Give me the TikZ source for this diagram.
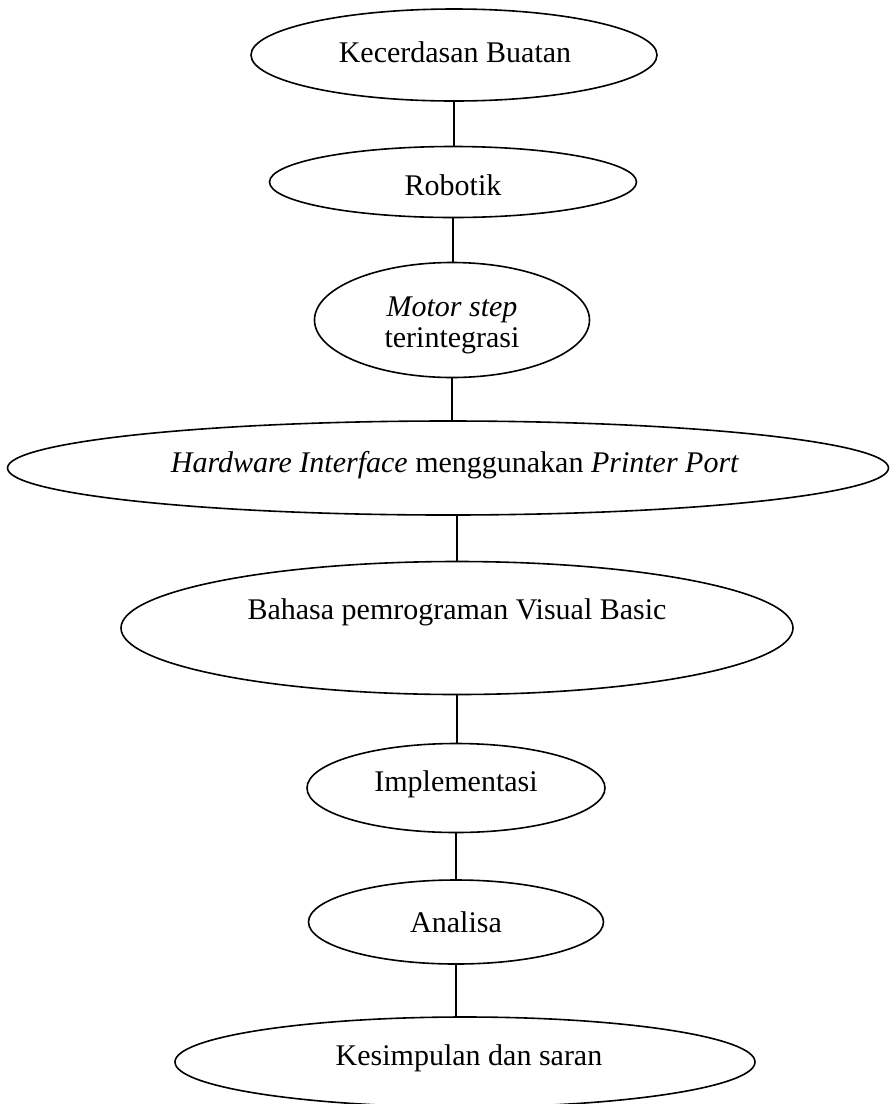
\documentclass[tikz,border=0pt]{standalone}
\usepackage{fontspec}
\setmainfont{Liberation Serif}
\usetikzlibrary{shapes.geometric}
\newcommand\dfont{\fontsize{30}{31}\selectfont}
\tikzset{
  ell/.style={draw, ellipse, inner sep=0pt, line width=1.6pt},
  lbl/.style={font=\dfont, align=center, inner sep=0pt},
  conn/.style={line width=1.3pt}
}
\begin{document}
\begin{tikzpicture}[x=1pt,y=-1pt]
\useasboundingbox[fill=white] (0,0) rectangle (891,1104);
% ellipses
\node[ell, minimum width=406pt, minimum height=92pt] (k) at (454,55) {};
\node[lbl] (kt) at (455,52) {Kecerdasan Buatan};
\node[ell, minimum width=367pt, minimum height=71pt] (r) at (453,182) {};
\node[lbl] (rt) at (453,185) {Robotik};
\node[ell, minimum width=275pt, minimum height=115pt] (m) at (452,320) {};
\node[lbl] (mt) at (452,325) {\textit{Motor step}\\terintegrasi};
\node[ell, minimum width=881pt, minimum height=94pt] (h) at (448,468) {};
\node[lbl] (ht) at (455,465) {\textit{Hardware Interface} menggunakan \textit{Printer Port}};
\node[ell, minimum width=672pt, minimum height=133pt] (b) at (457,628) {};
\node[lbl] (bt) at (457,612) {Bahasa pemrograman Visual Basic};
\node[ell, minimum width=298pt, minimum height=89pt] (i) at (456,788) {};
\node[lbl] (it) at (456,784) {Implementasi};
\node[ell, minimum width=295pt, minimum height=84pt] (a) at (456,922) {};
\node[lbl] (at) at (456,922) {Analisa};
\node[ell, minimum width=580pt, minimum height=90pt] (s) at (465,1062) {};
\node[lbl] (st) at (469,1058) {Kesimpulan dan saran};
% connectors
\draw[conn] (k.south) -- (k.south |- r.north);
\draw[conn] (r.south) -- (r.south |- m.north);
\draw[conn] (m.south) -- (m.south |- h.north);
\draw[conn] (b.north |- h.south) -- (b.north);
\draw[conn] (b.south) -- (b.south |- i.north);
\draw[conn] (i.south) -- (i.south |- a.north);
\draw[conn] (a.south) -- (a.south |- s.north);
\end{tikzpicture}
\end{document}
